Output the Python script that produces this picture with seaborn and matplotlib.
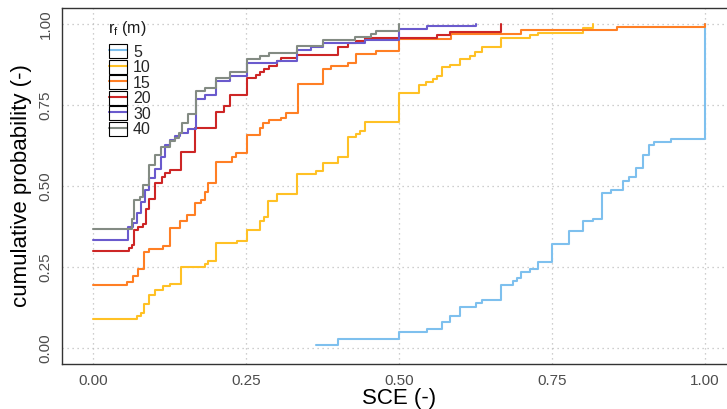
import seaborn as sns
import matplotlib.pyplot as plt
import matplotlib.patches as mpatches
from matplotlib.lines import Line2D
from matplotlib.legend_handler import HandlerTuple
import pandas as pd

# step points (SCE, cumulative probability)
sce_5 = [0.364, 0.400, 0.500, 0.546, 0.571, 0.583, 0.600, 0.625, 0.636, 0.666,
         0.687, 0.693, 0.699, 0.714, 0.727, 0.750, 0.777, 0.800, 0.817, 0.832,
         0.846, 0.866, 0.876, 0.888, 0.899, 0.908, 0.916, 0.944, 1.000]
cp_5 = [0.008, 0.028, 0.048, 0.057, 0.078, 0.098, 0.127, 0.137, 0.146, 0.195,
        0.205, 0.216, 0.234, 0.244, 0.264, 0.321, 0.361, 0.390, 0.399, 0.477,
        0.488, 0.515, 0.528, 0.556, 0.596, 0.626, 0.634, 0.644, 1.000]

sce_10 = [0.000, 0.072, 0.078, 0.084, 0.091, 0.101, 0.114, 0.125, 0.144, 0.183,
          0.188, 0.201, 0.236, 0.251, 0.273, 0.279, 0.286, 0.301, 0.334, 0.364,
          0.375, 0.401, 0.417, 0.429, 0.437, 0.444, 0.500, 0.533, 0.544, 0.555,
          0.562, 0.571, 0.583, 0.600, 0.616, 0.624, 0.636, 0.666, 0.714, 0.727,
          0.800, 0.817]
cp_10 = [0.089, 0.098, 0.106, 0.135, 0.162, 0.178, 0.191, 0.197, 0.250, 0.259,
         0.268, 0.322, 0.331, 0.365, 0.392, 0.403, 0.454, 0.474, 0.537, 0.545,
         0.572, 0.590, 0.652, 0.660, 0.670, 0.696, 0.786, 0.812, 0.822, 0.830,
         0.839, 0.866, 0.874, 0.892, 0.901, 0.913, 0.928, 0.956, 0.965, 0.973,
         0.987, 1.000]

sce_15 = [0.000, 0.056, 0.065, 0.074, 0.084, 0.091, 0.114, 0.125, 0.142, 0.154,
          0.166, 0.177, 0.183, 0.188, 0.201, 0.227, 0.234, 0.251, 0.273, 0.278,
          0.287, 0.308, 0.315, 0.335, 0.375, 0.389, 0.417, 0.429, 0.462, 0.500,
          0.585, 0.699, 0.856, 1.000]
cp_15 = [0.194, 0.204, 0.223, 0.242, 0.295, 0.306, 0.314, 0.371, 0.390, 0.410,
         0.446, 0.456, 0.481, 0.510, 0.575, 0.590, 0.602, 0.657, 0.678, 0.693,
         0.703, 0.711, 0.724, 0.814, 0.862, 0.870, 0.880, 0.907, 0.917, 0.955,
         0.969, 0.981, 0.991, 1.000]

sce_20 = [0.000, 0.059, 0.063, 0.067, 0.074, 0.081, 0.086, 0.092, 0.102, 0.112,
          0.118, 0.126, 0.144, 0.166, 0.201, 0.214, 0.224, 0.251, 0.266, 0.273,
          0.280, 0.287, 0.300, 0.308, 0.334, 0.401, 0.417, 0.429, 0.444, 0.562,
          0.583, 0.666]
cp_20 = [0.298, 0.307, 0.317, 0.364, 0.372, 0.382, 0.428, 0.458, 0.510, 0.528,
         0.539, 0.549, 0.605, 0.680, 0.728, 0.746, 0.782, 0.834, 0.842, 0.853,
         0.862, 0.869, 0.886, 0.894, 0.905, 0.930, 0.940, 0.947, 0.956, 0.967,
         0.974, 1.000]

sce_30 = [0.000, 0.057, 0.065, 0.072, 0.079, 0.085, 0.092, 0.101, 0.111, 0.118,
          0.125, 0.134, 0.142, 0.155, 0.168, 0.183, 0.201, 0.224, 0.251, 0.301,
          0.334, 0.357, 0.375, 0.444, 0.500, 0.545, 0.626]
cp_30 = [0.333, 0.374, 0.386, 0.415, 0.450, 0.487, 0.523, 0.552, 0.590, 0.626,
         0.642, 0.654, 0.664, 0.676, 0.767, 0.781, 0.823, 0.838, 0.878, 0.887,
         0.920, 0.928, 0.942, 0.951, 0.984, 0.994, 1.000]

sce_40 = [0.000, 0.063, 0.067, 0.076, 0.081, 0.091, 0.101, 0.111, 0.125, 0.134,
          0.140, 0.146, 0.156, 0.168, 0.183, 0.201, 0.224, 0.251, 0.273, 0.287,
          0.334, 0.375, 0.428, 0.454, 0.462, 0.500]
cp_40 = [0.367, 0.397, 0.456, 0.466, 0.503, 0.564, 0.595, 0.621, 0.638, 0.649,
         0.662, 0.693, 0.722, 0.793, 0.801, 0.832, 0.852, 0.891, 0.901, 0.911,
         0.932, 0.951, 0.959, 0.968, 0.979, 1.000]

radii = ['5', '10', '15', '20', '30', '40']
colors = ['#7EC0EE', '#FFC125', '#FF7F24', '#CD2626', '#6A5ACD', '#838B83']

series = {'5': (sce_5, cp_5), '10': (sce_10, cp_10), '15': (sce_15, cp_15),
          '20': (sce_20, cp_20), '30': (sce_30, cp_30), '40': (sce_40, cp_40)}
frames = []
for r in radii:
    x, y = series[r]
    frames.append(pd.DataFrame({'SCE': x, 'cp': y, 'rf': r}))
df = pd.concat(frames, ignore_index=True)

sns.set_style('white')
plt.rcParams['font.family'] = ['Liberation Sans', 'DejaVu Sans']

fig = plt.figure(figsize=(7.27, 4.09), dpi=100)
ax = fig.add_axes([62.4 / 727, (409 - 363.9) / 409, 673.2 / 727, 356.1 / 409])

sns.lineplot(data=df, x='SCE', y='cp', hue='rf', hue_order=radii,
             palette=colors, estimator=None, sort=False,
             drawstyle='steps-post', linewidth=1.5, legend=False, ax=ax)

ax.set_xlim(-0.05, 1.05)
ax.set_ylim(-0.05, 1.05)
ticks = [0, 0.25, 0.5, 0.75, 1.0]
ax.set_xticks(ticks)
ax.set_yticks(ticks)
ax.set_xticklabels(['0.00', '0.25', '0.50', '0.75', '1.00'])
ax.set_yticklabels(['0.00', '0.25', '0.50', '0.75', '1.00'], rotation=90, va='center')
ax.grid(True, linestyle=(0, (1, 3)), color='#BEBEBE', linewidth=0.9)
ax.set_axisbelow(True)
ax.tick_params(axis='both', length=4, width=1, color='#333333',
               labelcolor='#4D4D4D', labelsize=11, direction='out', pad=3)
for s in ax.spines.values():
    s.set_color('#333333')
    s.set_linewidth(1)

ax.set_xlabel('SCE (-)', fontsize=16, color='black', labelpad=0)
ax.set_ylabel('cumulative probability (-)', fontsize=16, color='black', labelpad=5)

# legend keys: coloured line inside a black box
handles = []
for c in colors:
    ln = Line2D([], [], color=c, linewidth=1.5)
    box = mpatches.Rectangle((0, 0), 1, 1, facecolor='none', edgecolor='black', linewidth=0.8)
    handles.append((ln, box))
leg = ax.legend(handles, radii,
                handler_map={tuple: HandlerTuple(ndivide=1, pad=0)},
                loc='upper left', bbox_to_anchor=(109 / 727, 1 - 44 / 409),
                bbox_transform=fig.transFigure, frameon=False, fontsize=11.5,
                handlelength=1.1, handleheight=0.98,
                labelspacing=0.0, handletextpad=0.4, borderpad=0,
                borderaxespad=0)
fig.text(108 / 727, 1 - 28 / 409, r'r$_{\mathregular{f}}$ (m)', fontsize=11.5,
         color='#1A1A1A', ha='left', va='center')

fig.savefig('out.png', dpi=100)
